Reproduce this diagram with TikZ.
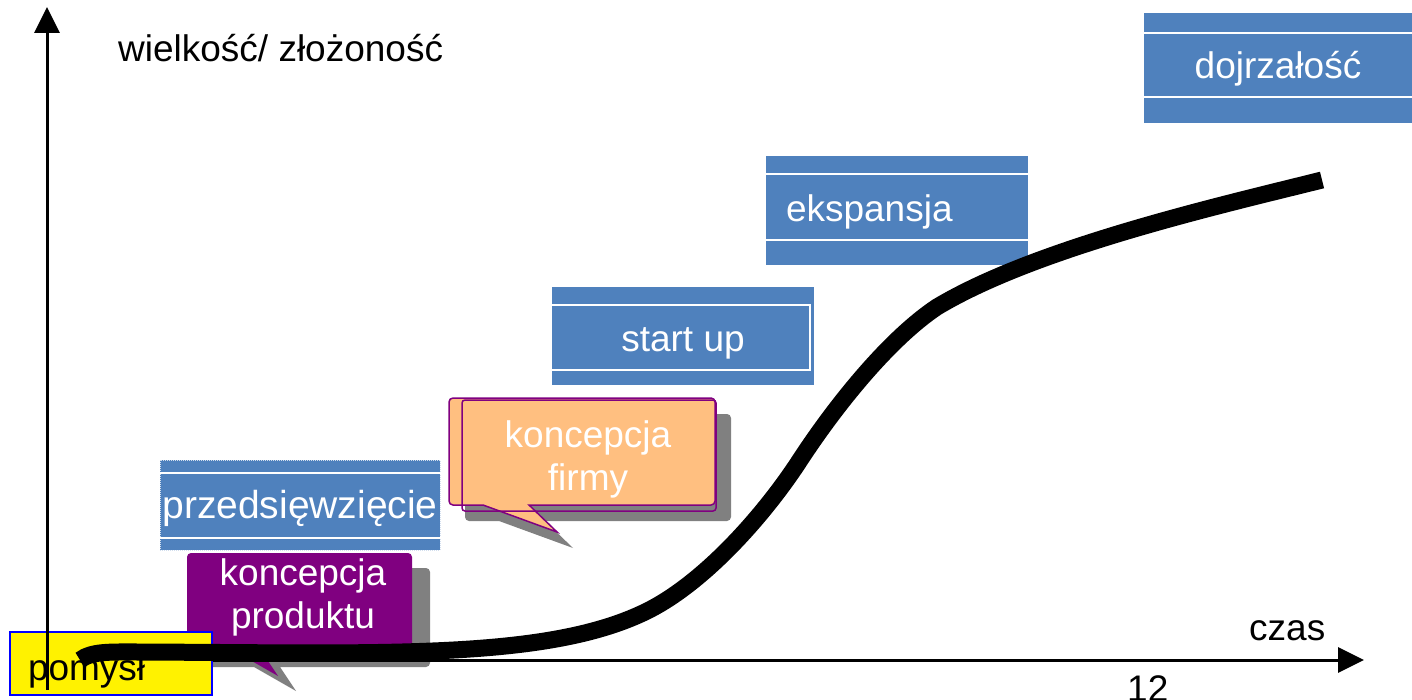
\documentclass[tikz,border=0pt]{standalone}
\usepackage{fontspec}
\setmainfont{Liberation Sans}
\usetikzlibrary{arrows.meta}

\definecolor{stageblue}{RGB}{79,129,189}
\definecolor{bubblepurple}{RGB}{128,0,128}
\definecolor{bubbleorange}{RGB}{255,191,128}
\definecolor{shadowgray}{RGB}{128,128,128}

% speech bubble outlines
\newcommand{\produktbubble}{(300,553) [rounded corners=4pt] -- (412,553) -- (412,652) [sharp corners] -- (262,652) -- (278,676) -- (236,652) [rounded corners=4pt] -- (187,652) -- (187,553) -- cycle}
\newcommand{\firmybubble}{(582,398) [rounded corners=4pt] -- (715,398) -- (715,505) [sharp corners] -- (529,505) -- (557,532) -- (483,505) [rounded corners=4pt] -- (449,505) -- (449,398) -- cycle}

\begin{document}
\begin{tikzpicture}[x=1pt, y=-1pt,
  every node/.style={font=\fontsize{37}{43}\selectfont},
  stagebox/.style={fill=stageblue, text=white, inner xsep=2pt, inner ysep=0pt,
    text height=30pt, text depth=8pt},
  boxrule/.style={draw=white, line width=2pt},
  axisline/.style={line width=3pt, -{Triangle[length=26pt,width=25pt]}},
  axislabel/.style={anchor=base west, inner sep=0pt},
  bubbleshadow/.style={fill=shadowgray},
  bubbletext/.style={text=white, align=center, inner sep=0pt},
  idea/.style={fill=yellow, draw=blue, line width=2pt, minimum width=202pt,
    minimum height=63pt, text width=166pt, align=left, inner xsep=18pt,
    inner ysep=0pt, text height=41pt, text depth=8pt},
  growth/.style={line width=17pt, line cap=butt}
  ]
  \useasboundingbox (0,0) rectangle (1412,700);

  % stages
  \node (przed) [stagebox, minimum width=280pt, minimum height=90pt, text height=34pt,
    font=\fontsize{39}{43}\selectfont,
    draw=white!75!stageblue, densely dotted, line width=1pt] at (300,505) {przedsięwzięcie};
  \draw[boxrule] ([yshift=-13pt]przed.north west) -- ([yshift=-13pt]przed.north east);
  \draw[boxrule] ([yshift=13pt]przed.south west) -- ([yshift=13pt]przed.south east);

  \node (startup) [stagebox, minimum width=262pt, minimum height=98pt, text height=38pt]
    at (683,336) {start up};
  \draw[boxrule] ([yshift=-18pt]startup.north west) -- ([xshift=-4pt,yshift=-18pt]startup.north east)
    -- ([xshift=-4pt,yshift=15pt]startup.south east) -- ([yshift=15pt]startup.south west);

  \node (eksp) [stagebox, minimum width=262pt, minimum height=109pt, text width=222pt,
    align=left, inner xsep=20pt] at (897,210.5) {ekspansja};
  \draw[boxrule] ([yshift=-18pt]eksp.north west) -- ([yshift=-18pt]eksp.north east);
  \draw[boxrule] ([yshift=25pt]eksp.south west) -- ([yshift=25pt]eksp.south east);

  \node (dojr) [stagebox, minimum width=268pt, minimum height=110pt] at (1278,68) {dojrzałość};
  \draw[boxrule] ([yshift=-20pt]dojr.north west) -- ([yshift=-20pt]dojr.north east);
  \draw[boxrule] ([yshift=26pt]dojr.south west) -- ([yshift=26pt]dojr.south east);

  % bubbles
  \fill[bubbleshadow, xshift=16pt, yshift=-16pt] \firmybubble;
  \filldraw[fill=bubbleorange, draw=bubblepurple, line width=1.5pt] \firmybubble;
  \draw[bubblepurple, line width=1.5pt, rounded corners=3pt] (462,400) rectangle (716,511);
  \node (firmy) [bubbletext] at (588,459) {koncepcja\\firmy};

  \fill[bubbleshadow, xshift=18pt, yshift=-15pt] \produktbubble;
  \fill[bubblepurple] \produktbubble;
  \node (produkt) [bubbletext] at (303,597) {koncepcja\\produktu};

  % axes
  \coordinate (origin) at (47,660);
  \coordinate (ybottom) at (47,690);
  \coordinate (ytip) at (47,7);
  \coordinate (xtip) at (1364,660);
  \draw[axisline] (origin) -- (xtip);

  \node (pomysl) [idea] at (111,663.5) {pomysł};

  \draw[axisline] (ybottom) -- (ytip);

  \node (yname) [axislabel] at (118,62) {wielkość/ złożoność};
  \node (xname) [axislabel] at (1249,640) {czas};
  \node (tick) [axislabel] at (1127,701) {12};

  % growth curve
  \draw[growth] (80,660) .. controls (92,651) and (110,652) .. (140,652)
    .. controls (380,653) and (543,660) .. (643,613)
    .. controls (703,585) and (765,514) .. (800,460)
    .. controls (840,399) and (892,337) .. (937,307)
    .. controls (1037,247) and (1222,205) .. (1322,180);
\end{tikzpicture}
\end{document}
